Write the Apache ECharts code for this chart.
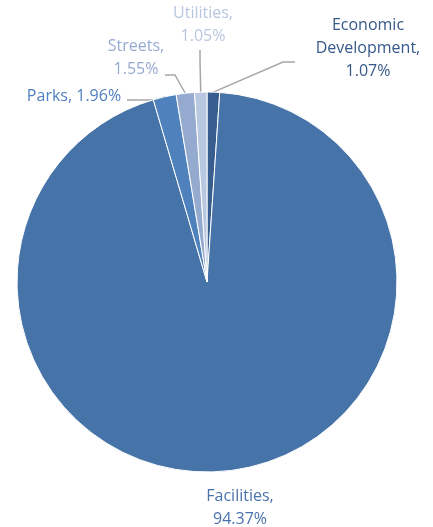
<!DOCTYPE html>
<html>
<head>
<meta charset="utf-8">
<script src="https://cdn.jsdelivr.net/npm/echarts@6/dist/echarts.min.js"></script>
<style>
html,body{margin:0;padding:0;background:#fff;}
#chart{width:433px;height:527px;}
</style>
</head>
<body>
<div id="chart"></div>
<script>
const categories = ['Economic Development', 'Facilities', 'Parks', 'Streets', 'Utilities'];
const values = [1.07, 94.37, 1.96, 1.55, 1.05];
const labelTexts = ['Economic\nDevelopment,\n1.07%', 'Facilities,\n94.37%', 'Parks, 1.96%', 'Streets,\n1.55%', 'Utilities,\n1.05%'];

const sliceColors = ['#375E8F', '#4673A8', '#4F81BD', '#95AACF', '#B9C8E1'];
const labelColors = ['#36598A', '#4A72AC', '#4F7FC0', '#95AAD0', '#B8C6DF'];

// label placement (relative to the chart), and elbow/end of leader lines
const labelPlace = [
  {x: 368, y: 48, line: [[283, 62], [295, 62]]},
  {x: 240, y: 508, line: null},
  {x: 74, y: 96, line: [[155, 100], [127, 100]]},
  {x: 136, y: 58, line: [[175, 75], [165, 75]]},
  {x: 203, y: 25, line: [[200, 60], [200, 50]]}
];

const chart = echarts.init(document.getElementById('chart'), null, {renderer: 'canvas'});
chart.setOption({
  animation: false,
  series: [{
    type: 'pie',
    center: [207, 282],
    radius: 190,
    startAngle: 90,
    clockwise: true,
    avoidLabelOverlap: false,
    itemStyle: {borderColor: '#ffffff', borderWidth: 1},
    label: {
      show: true,
      position: 'outside',
      fontFamily: 'Open Sans',
      fontSize: 16,
      lineHeight: 23,
      align: 'center',
      formatter: p => labelTexts[p.dataIndex]
    },
    labelLine: {show: true, lineStyle: {color: '#A6A6A6', width: 1.5}},
    labelLayout: function (params) {
      const pl = labelPlace[params.dataIndex];
      const res = {x: pl.x, y: pl.y, align: 'center', verticalAlign: 'middle'};
      if (pl.line && params.labelLinePoints) {
        res.labelLinePoints = [params.labelLinePoints[0], pl.line[0], pl.line[1]];
      }
      return res;
    },
    data: categories.map((c, i) => ({
      name: c,
      value: values[i],
      itemStyle: {color: sliceColors[i]},
      label: {color: labelColors[i]},
      labelLine: {show: labelPlace[i].line !== null}
    }))
  }]
});
</script>
</body>
</html>
